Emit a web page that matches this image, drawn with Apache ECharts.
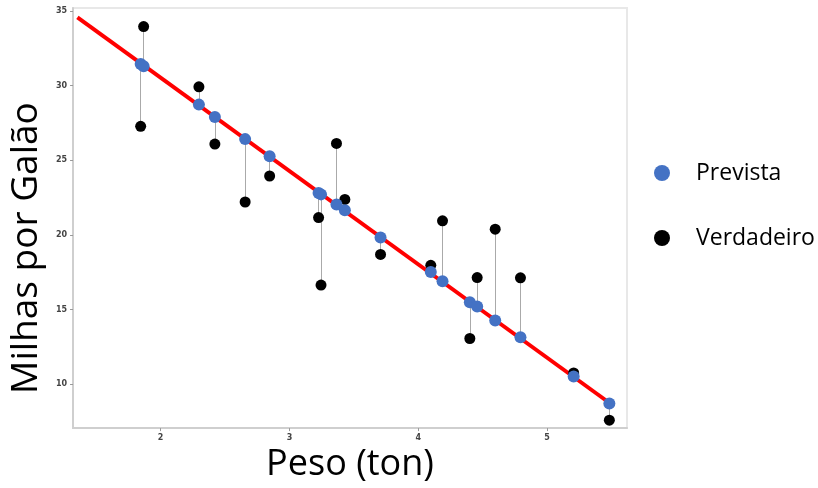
<!DOCTYPE html>
<html>
<head>
<meta charset="utf-8">
<script src="https://cdn.jsdelivr.net/npm/echarts@6/dist/echarts.min.js"></script>
<style>html,body{margin:0;padding:0;background:#fff}#c{width:818px;height:488px}</style>
</head>
<body>
<div id="c"></div>
<script>
// Weight (ton) of each car
const peso = [1.845, 1.868, 2.297, 2.421, 2.656, 2.846, 3.226, 3.245, 3.365, 3.430, 3.707, 4.097, 4.188, 4.400, 4.457, 4.597, 4.793, 5.206, 5.483];
// Predicted MPG (on regression line)
const prevista = [31.45, 31.30, 28.73, 27.90, 26.42, 25.27, 22.82, 22.72, 22.05, 21.65, 19.84, 17.53, 16.91, 15.50, 15.21, 14.28, 13.16, 10.53, 8.71];
// Observed MPG
const verdadeiro = [27.28, 33.96, 29.92, 26.09, 22.21, 23.95, 21.17, 16.65, 26.13, 22.38, 18.70, 17.97, 20.95, 13.07, 17.15, 20.39, 17.13, 10.76, 7.60];
// Regression line endpoints
const linhaX = [1.354, 5.517];
const linhaY = [34.58, 8.55];
const xTicks = [2, 3, 4, 5];
const yTicks = [10, 15, 20, 25, 30, 35];

const chart = echarts.init(document.getElementById('c'));
const tickLabel = {fontSize: 8, color: '#444', fontWeight: 'bold', fontFamily: 'DejaVu Sans'};
chart.setOption({
  animation: false,
  grid: {left: 72, right: 191, top: 8, bottom: 55, show: true, borderColor: '#e8e8e8', borderWidth: 2},
  xAxis: {
    type: 'value', min: 1.32, max: 5.62,
    name: 'Peso (ton)', nameLocation: 'middle', nameGap: 16,
    nameTextStyle: {fontSize: 36, color: '#000', fontFamily: 'Open Sans'},
    axisLine: {show: true, onZero: false, lineStyle: {color: '#cfcfcf', width: 2}},
    axisTick: {show: true, length: 3, customValues: xTicks, lineStyle: {color: '#999'}},
    axisLabel: {customValues: xTicks, margin: 6, ...tickLabel},
    splitLine: {show: false}
  },
  yAxis: {
    type: 'value', min: 7.07, max: 35.2,
    name: 'Milhas por Galão', nameLocation: 'middle', nameGap: 28,
    nameTextStyle: {fontSize: 37, color: '#000', fontFamily: 'Open Sans', padding: [0, 60, 0, 0]},
    axisLine: {show: true, onZero: false, lineStyle: {color: '#cfcfcf', width: 2}},
    axisTick: {show: true, length: 3, customValues: yTicks, lineStyle: {color: '#999'}},
    axisLabel: {customValues: yTicks, margin: 6, ...tickLabel},
    splitLine: {show: false}
  },
  legend: {
    orient: 'vertical', left: 649, top: 156, itemGap: 41,
    itemWidth: 16, itemHeight: 16,
    textStyle: {fontSize: 23, lineHeight: 24, color: '#000', fontFamily: 'Open Sans', padding: [0, 0, 0, 21]},
    data: [
      {name: 'Prevista', icon: 'circle', itemStyle: {color: '#4472C4'}},
      {name: 'Verdadeiro', icon: 'circle', itemStyle: {color: '#000'}}
    ]
  },
  series: [
    {
      type: 'lines', coordinateSystem: 'cartesian2d', z: 1, silent: true,
      lineStyle: {color: '#aaaaaa', width: 1, opacity: 1},
      data: peso.map((x, i) => ({coords: [[x, prevista[i]], [x, verdadeiro[i]]]}))
    },
    {
      type: 'line', z: 2, symbol: 'none', silent: true,
      lineStyle: {color: '#ff0000', width: 4},
      data: linhaX.map((x, i) => [x, linhaY[i]])
    },
    {
      name: 'Verdadeiro', type: 'scatter', z: 3, symbolSize: 11,
      itemStyle: {color: '#000', opacity: 1},
      data: peso.map((x, i) => [x, verdadeiro[i]])
    },
    {
      name: 'Prevista', type: 'scatter', z: 4, symbolSize: 12,
      itemStyle: {color: '#4472C4', opacity: 1},
      data: peso.map((x, i) => [x, prevista[i]])
    }
  ]
});
</script>
</body>
</html>
